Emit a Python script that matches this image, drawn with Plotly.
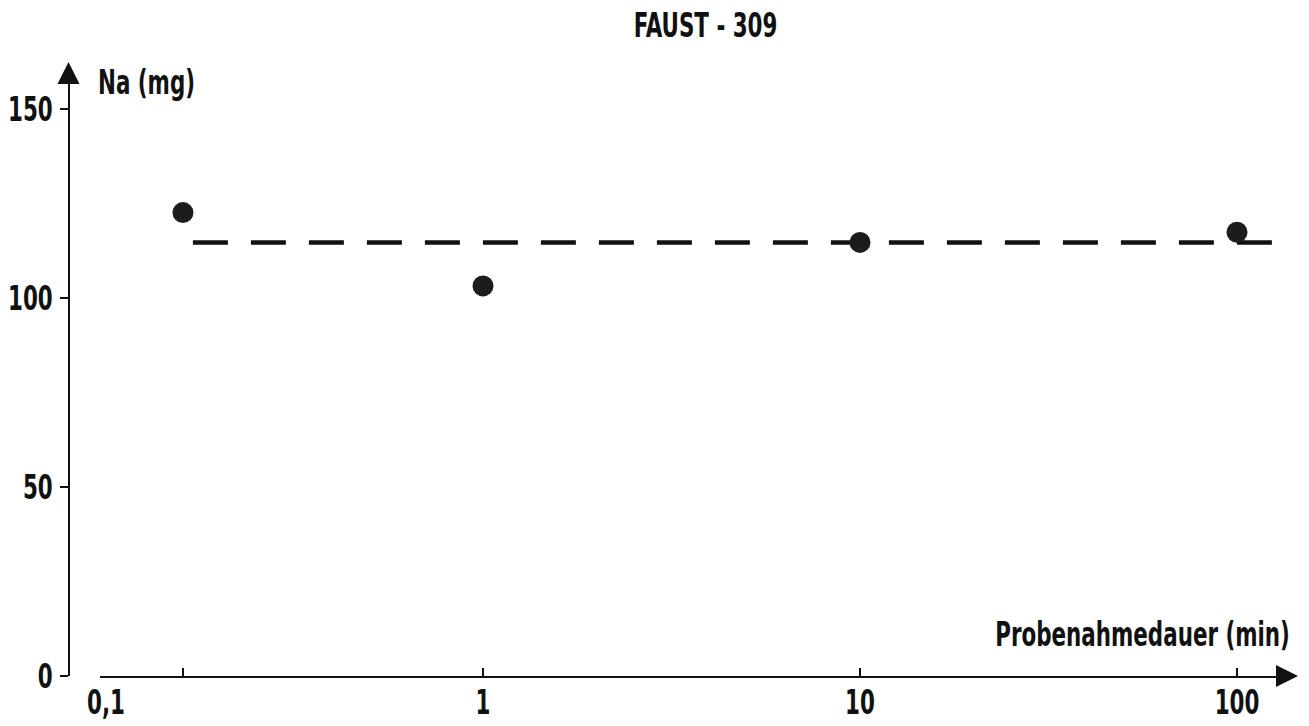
import plotly.graph_objects as go

# Measured sodium mass versus sampling duration
duration_min = [0.16, 1, 10, 100]
na_mg = [122.6, 103.2, 114.7, 117.4]

# Mean level drawn as a dashed reference line
mean_x = [0.17, 134]
mean_y = [114.7, 114.7]

x_tick_vals = [0.1, 1, 10, 100]
x_tick_text = ["0,1", "1", "10", "100"]
x_mark_vals = [0.16, 1, 10, 100]
y_tick_vals = [0, 50, 100, 150]

W, H = 1309, 726
ML, MR, MT, MB = 0, 0, 80, 50
FONT = "DejaVu Sans Condensed, Liberation Sans Narrow, sans-serif"
INK = "#111111"
SQUEEZE = 0.70   # horizontal compression of all text (condensed lettering)

x_lo, x_hi = 100, 1283          # pixel span of the horizontal axis line
y_axis_px = 68.5                 # pixel position of the vertical axis line
decade_px = 377.0
log_left = -1 + (x_lo - 106) / decade_px
log_right = -1 + (x_hi - 106) / decade_px
plot_h = H - MT - MB
y_top = plot_h / 3.78

fig = go.Figure()

fig.add_trace(go.Scatter(
    x=mean_x, y=mean_y, mode="lines",
    line=dict(color=INK, width=4.5, dash="35px,23px"),
    hoverinfo="skip", showlegend=False,
))
fig.add_trace(go.Scatter(
    x=duration_min, y=na_mg, mode="markers",
    marker=dict(color="#1c1c1c", size=21, line=dict(width=0)),
    showlegend=False,
))
# invisible trace carrying the tick-mark axis
fig.add_trace(go.Scatter(
    x=[duration_min[0]], y=[na_mg[0]], xaxis="x2", mode="markers",
    marker=dict(opacity=0), hoverinfo="skip", showlegend=False,
))

fig.update_layout(
    width=W, height=H,
    margin=dict(l=ML, r=MR, t=MT, b=MB, autoexpand=False),
    paper_bgcolor="white", plot_bgcolor="white",
    font=dict(family=FONT, size=34, color=INK),
    xaxis=dict(
        type="log", range=[log_left, log_right],
        domain=[x_lo / W, x_hi / W], automargin=False,
        showgrid=False, zeroline=False,
        showline=True, linecolor=INK, linewidth=2,
        ticks="", tickmode="array", tickvals=x_tick_vals, ticktext=x_tick_text,
        tickfont=dict(family=FONT, size=34, color=INK, weight="bold"),
        ticklabelstandoff=-5,
    ),
    xaxis2=dict(
        type="log", range=[log_left, log_right],
        domain=[x_lo / W, x_hi / W], automargin=False,
        overlaying="x", anchor="y", side="bottom",
        showgrid=False, zeroline=False, showline=False,
        ticks="inside", ticklen=8, tickwidth=2, tickcolor=INK,
        tickmode="array", tickvals=x_mark_vals, showticklabels=False,
    ),
    yaxis=dict(
        range=[0, y_top], automargin=False,
        anchor="free", position=y_axis_px / W,
        showgrid=False, zeroline=False,
        showline=True, linecolor=INK, linewidth=2,
        ticks="outside", ticklen=8, tickwidth=2, tickcolor=INK,
        tickmode="array", tickvals=y_tick_vals,
        tickfont=dict(family=FONT, size=34, color=INK, weight="bold"),
        ticklabelstandoff=0,
    ),
    annotations=[
        dict(text="<b>FAUST - 309</b>", xref="paper", yref="paper",
             x=705 / W, y=(H - MB - 25) / plot_h, xanchor="center", yanchor="middle",
             align="center", showarrow=False, font=dict(size=34)),
        dict(text="<b>Na (mg)</b>", xref="paper", yref="paper",
             x=96 / W, y=(H - MB - 82) / plot_h, xanchor="left", yanchor="middle",
             align="left", showarrow=False, font=dict(size=34)),
        dict(text="<b>Probenahmedauer (min)</b>", xref="paper", yref="paper",
             x=1292 / W, y=(H - MB - 634) / plot_h, xanchor="right", yanchor="middle",
             align="right", showarrow=False, font=dict(size=34)),
        # arrow heads at the ends of both axes
        dict(text="", xref="paper", yref="paper",
             x=y_axis_px / W, y=(H - MB - 62) / plot_h, ax=0, ay=20,
             showarrow=True, arrowhead=2, arrowsize=2.2, arrowwidth=2, arrowcolor=INK),
        dict(text="", xref="paper", yref="paper",
             x=1298 / W, y=0, ax=-16, ay=0,
             showarrow=True, arrowhead=2, arrowsize=2.2, arrowwidth=2, arrowcolor=INK),
    ],
)

# Condense the lettering horizontally, keeping each label's anchor point
squeeze_js = """
var gd = document.getElementById('{plot_id}');
gd.querySelectorAll('svg text').forEach(function (t) {
  if (!t.textContent || !t.textContent.trim()) return;
  var w = t.getComputedTextLength();
  if (w > 0) {
    t.setAttribute('textLength', (w * %s).toFixed(2));
    t.setAttribute('lengthAdjust', 'spacingAndGlyphs');
  }
});
""" % SQUEEZE

fig.write_html("out.html", post_script=squeeze_js,
               config={"displayModeBar": False})
